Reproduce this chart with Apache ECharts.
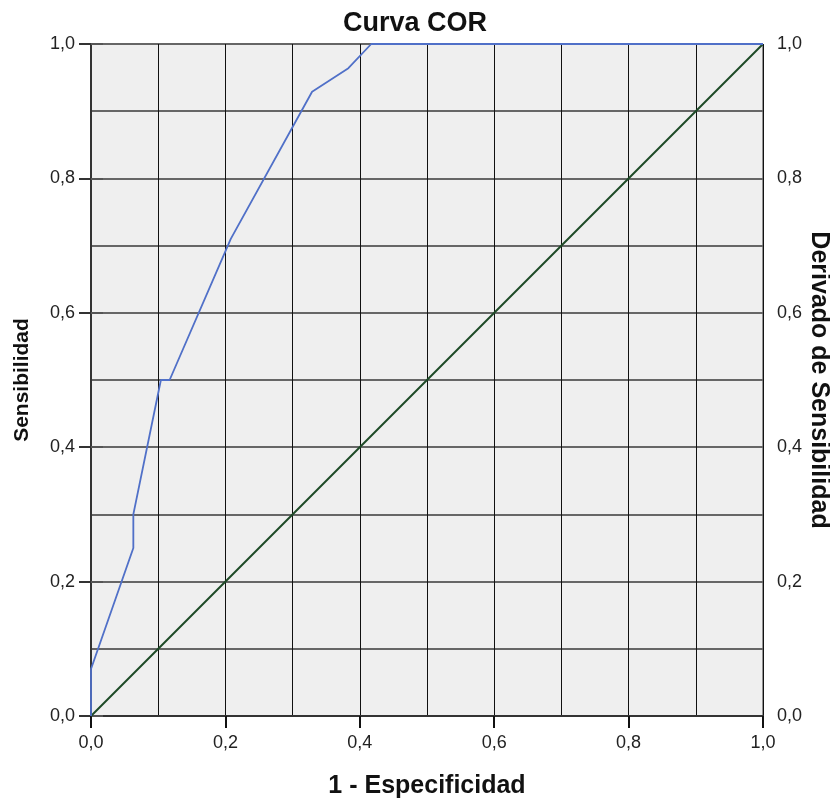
<!DOCTYPE html>
<html><head><meta charset="utf-8">
<script src="https://cdn.jsdelivr.net/npm/echarts@6/dist/echarts.min.js"></script>
<style>html,body{margin:0;padding:0;background:#fff}#c{width:830px;height:798px}</style>
</head><body><div id="c"></div>
<script>
const rocX = [0, 0, 0.063, 0.063, 0.104, 0.117, 0.208, 0.329, 0.383, 0.417, 1];
const rocY = [0, 0.07, 0.25, 0.30, 0.50, 0.50, 0.71, 0.929, 0.964, 1, 1];
const refX = [0, 1];
const refY = [0, 1];

const fmt = v => v.toFixed(1).replace('.', ',');
const lblFont = {fontFamily: 'Liberation Sans, Arial, sans-serif', fontSize: 18, color: '#222'};
const nameFont = {fontFamily: 'Liberation Sans, Arial, sans-serif', fontWeight: 'bold', color: '#111'};

const chart = echarts.init(document.getElementById('c'));
chart.setOption({
  animation: false,
  title: {text: 'Curva COR', left: 'center', top: 5,
    textStyle: {fontFamily: 'Liberation Sans, Arial, sans-serif', fontSize: 27, fontWeight: 'bold', color: '#111'}},
  grid: {left: 91, right: 67, top: 44, bottom: 82, outerBoundsMode: 'none', containLabel: false,
    show: true, backgroundColor: '#efefef', borderColor: '#333', borderWidth: 1},
  xAxis: [
    {type: 'value', min: 0, max: 1, interval: 0.2, position: 'bottom',
     name: '1 - Especificidad', nameLocation: 'middle', nameGap: 58, nameMoveOverlap: false,
     nameTextStyle: Object.assign({fontSize: 25}, nameFont),
     axisLine: {show: true, lineStyle: {color: '#333', width: 2}},
     axisTick: {show: true, length: 12, lineStyle: {color: '#111', width: 2}},
     axisLabel: Object.assign({formatter: fmt, margin: 18}, lblFont),
     splitLine: {show: false}},
    {type: 'value', min: 0, max: 1, interval: 0.1, position: 'bottom',
     axisLine: {show: false}, axisTick: {show: false}, axisLabel: {show: false},
     splitLine: {show: true, lineStyle: {color: '#111', width: 1}}}
  ],
  yAxis: [
    {type: 'value', min: 0, max: 1, interval: 0.2, position: 'left',
     name: 'Sensibilidad', nameLocation: 'middle', nameGap: 58, nameRotate: 90, nameMoveOverlap: false,
     nameTextStyle: Object.assign({fontSize: 21}, nameFont),
     axisLine: {show: true, lineStyle: {color: '#333', width: 2}},
     axisTick: {show: true, length: 12, lineStyle: {color: '#333', width: 2}},
     axisLabel: Object.assign({formatter: fmt, margin: 16}, lblFont),
     splitLine: {show: false}},
    {type: 'value', min: 0, max: 1, interval: 0.2, position: 'right',
     name: 'Derivado de Sensibilidad', nameLocation: 'middle', nameGap: 43, nameRotate: -90, nameMoveOverlap: false,
     nameTextStyle: Object.assign({fontSize: 25}, nameFont),
     axisLine: {show: true, lineStyle: {color: '#333', width: 2}},
     axisTick: {show: true, length: 12, lineStyle: {color: '#555', width: 2}},
     axisLabel: Object.assign({formatter: fmt, margin: 14}, lblFont),
     splitLine: {show: false}},
    {type: 'value', min: 0, max: 1, interval: 0.1, position: 'left',
     axisLine: {show: false}, axisTick: {show: false}, axisLabel: {show: false},
     splitLine: {show: true, lineStyle: {color: '#666', width: 2}}}
  ],
  series: [
    {type: 'line', xAxisIndex: 0, yAxisIndex: 0, data: refX.map((x, i) => [x, refY[i]]),
     symbol: 'none', lineStyle: {color: '#1d4a26', width: 2}, z: 3},
    {type: 'line', xAxisIndex: 0, yAxisIndex: 0, data: rocX.map((x, i) => [x, rocY[i]]),
     symbol: 'none', lineStyle: {color: '#5070c8', width: 1.8}, z: 4}
  ]
});
</script></body></html>
